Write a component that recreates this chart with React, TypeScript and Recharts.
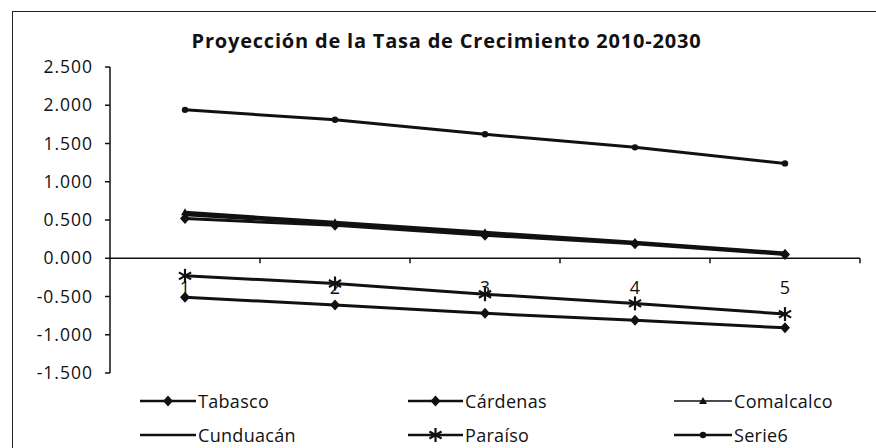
import React from "react";
import { LineChart, Line, XAxis, YAxis, ReferenceLine } from "recharts";

const categories = ["1", "2", "3", "4", "5"];
const tabasco = [0.52, 0.43, 0.3, 0.19, 0.05];
const cardenas = [-0.51, -0.61, -0.72, -0.81, -0.91];
const comalcalco = [0.6, 0.47, 0.34, 0.21, 0.07];
const cunduacan = [0.57, 0.45, 0.32, 0.2, 0.06];
const paraiso = [-0.23, -0.33, -0.47, -0.59, -0.73];
const serie6 = [1.94, 1.81, 1.62, 1.45, 1.24];
const yTicks = [-1.5, -1, -0.5, 0, 0.5, 1, 1.5, 2, 2.5];

const data = categories.map((cat, i) => ({
  cat,
  tabasco: tabasco[i],
  cardenas: cardenas[i],
  comalcalco: comalcalco[i],
  cunduacan: cunduacan[i],
  paraiso: paraiso[i],
  serie6: serie6[i],
}));

type Shape = "diamond" | "triangle" | "none" | "star" | "circle";

const series: { key: string; name: string; shape: Shape; width: number }[] = [
  { key: "cunduacan", name: "Cunduacán", shape: "none", width: 3 },
  { key: "comalcalco", name: "Comalcalco", shape: "triangle", width: 3 },
  { key: "tabasco", name: "Tabasco", shape: "diamond", width: 3 },
  { key: "cardenas", name: "Cárdenas", shape: "diamond", width: 3 },
  { key: "paraiso", name: "Paraíso", shape: "star", width: 3 },
  { key: "serie6", name: "Serie6", shape: "circle", width: 3 },
];

// legend order / placement as in the picture (2 rows x 3 columns)
const legendRows = [
  ["tabasco", "cardenas", "comalcalco"],
  ["cunduacan", "paraiso", "serie6"],
];

const W = 876;
const H = 448;
const PLOT_TOP = 67;
const PLOT_BOTTOM = 373;
const PLOT_LEFT = 110;
const PLOT_RIGHT = 860;
const Y_MIN = -1.5;
const Y_MAX = 2.5;
const ZERO_Y = PLOT_TOP + ((PLOT_BOTTOM - PLOT_TOP) * Y_MAX) / (Y_MAX - Y_MIN);
const BAND = (PLOT_RIGHT - PLOT_LEFT) / categories.length;
const INK = "#111";
const FONT = "'Open Sans', sans-serif";

function Marker({ shape, cx, cy }: { shape: Shape; cx: number; cy: number }) {
  if (shape === "diamond") {
    return (
      <polygon
        points={`${cx},${cy - 5.5} ${cx + 5},${cy} ${cx},${cy + 5.5} ${cx - 5},${cy}`}
        fill={INK}
      />
    );
  }
  if (shape === "triangle") {
    return <polygon points={`${cx},${cy - 4} ${cx + 4},${cy + 3} ${cx - 4},${cy + 3}`} fill={INK} />;
  }
  if (shape === "circle") {
    return <circle cx={cx} cy={cy} r={3.2} fill={INK} />;
  }
  if (shape === "star") {
    const r = 7;
    return (
      <g stroke={INK} strokeWidth={2.2}>
        <line x1={cx} y1={cy - r} x2={cx} y2={cy + r} />
        <line x1={cx - r * 0.87} y1={cy - r * 0.5} x2={cx + r * 0.87} y2={cy + r * 0.5} />
        <line x1={cx - r * 0.87} y1={cy + r * 0.5} x2={cx + r * 0.87} y2={cy - r * 0.5} />
      </g>
    );
  }
  return null;
}

function makeDot(shape: Shape) {
  return (props: any) => (
    <g key={`${shape}-${props.index}`}>
      <Marker shape={shape} cx={props.cx} cy={props.cy} />
    </g>
  );
}

function XTick({ x, payload }: any) {
  return (
    <g>
      <text
        x={x}
        y={ZERO_Y + 36}
        textAnchor="middle"
        fill={INK}
        fontSize={18}
        fontFamily={FONT}
      >
        {payload.value}
      </text>
      <line x1={x + BAND / 2} x2={x + BAND / 2} y1={ZERO_Y} y2={ZERO_Y + 5} stroke={INK} strokeWidth={1.5} />
    </g>
  );
}

const legendCols = [
  { line: 140, text: 198 },
  { line: 408, text: 465 },
  { line: 674, text: 734 },
];
const legendRowY = [401, 435];

function LegendBlock() {
  return (
    <>
      {legendRows.map((row, r) =>
        row.map((key, c) => {
          const s = series.find((it) => it.key === key)!;
          const col = legendCols[c];
          const lw = col.text - col.line - 2;
          return (
            <div
              key={key}
              style={{
                position: "absolute",
                left: col.line,
                top: legendRowY[r] - 13,
                height: 26,
                display: "flex",
                alignItems: "center",
                fontFamily: FONT,
                fontSize: 18,
                letterSpacing: 0.3,
                color: INK,
                whiteSpace: "nowrap",
              }}
            >
              <svg width={lw} height={20} style={{ marginRight: 2 }}>
                <line x1={0} x2={lw} y1={10} y2={10} stroke={INK} strokeWidth={key === "comalcalco" ? 1.5 : 2.5} />
                <Marker shape={s.shape} cx={lw / 2} cy={10} />
              </svg>
              {s.name}
            </div>
          );
        })
      )}
    </>
  );
}

export default function App() {
  return (
    <div style={{ position: "absolute", left: 0, top: 0, width: W, height: H, background: "#fff", overflow: "hidden" }}>
      <div
        style={{
          position: "absolute",
          left: 12,
          top: 11,
          width: W,
          height: H,
          borderLeft: "1.5px solid #222",
          borderTop: "1.5px solid #222",
        }}
      />
      <div
        style={{
          position: "absolute",
          left: 0,
          width: 893,
          top: 27,
          textAlign: "center",
          fontFamily: FONT,
          fontWeight: 700,
          fontSize: 20,
          letterSpacing: 0.8,
          color: INK,
        }}
      >
        Proyección de la Tasa de Crecimiento 2010-2030
      </div>
      <div style={{ position: "absolute", left: 0, top: 0 }}>
        <LineChart width={W} height={H} data={data} margin={{ top: PLOT_TOP, right: W - PLOT_RIGHT, bottom: 45, left: 50 }}>
          <XAxis
            dataKey="cat"
            height={30}
            axisLine={false}
            tickLine={false}
            padding={{ left: BAND / 2, right: BAND / 2 }}
            tick={<XTick />}
            interval={0}
          />
          <YAxis
            width={60}
            domain={[Y_MIN, Y_MAX]}
            ticks={yTicks}
            interval={0}
            tickFormatter={(v: number) => v.toFixed(3)}
            axisLine={{ stroke: INK, strokeWidth: 1.5 }}
            tickLine={{ stroke: INK, strokeWidth: 1.5 }}
            tickSize={5}
            tickMargin={12}
            tick={{ fill: INK, fontSize: 17.5, fontFamily: FONT, letterSpacing: 1 }}
          />
          <ReferenceLine y={0} stroke={INK} strokeWidth={1.5} />
          {series.map((s) => (
            <Line
              key={s.key}
              dataKey={s.key}
              name={s.name}
              type="linear"
              stroke={INK}
              strokeWidth={s.width}
              dot={s.shape === "none" ? false : makeDot(s.shape)}
              activeDot={false}
              isAnimationActive={false}
            />
          ))}
        </LineChart>
      </div>
      <LegendBlock />
    </div>
  );
}
